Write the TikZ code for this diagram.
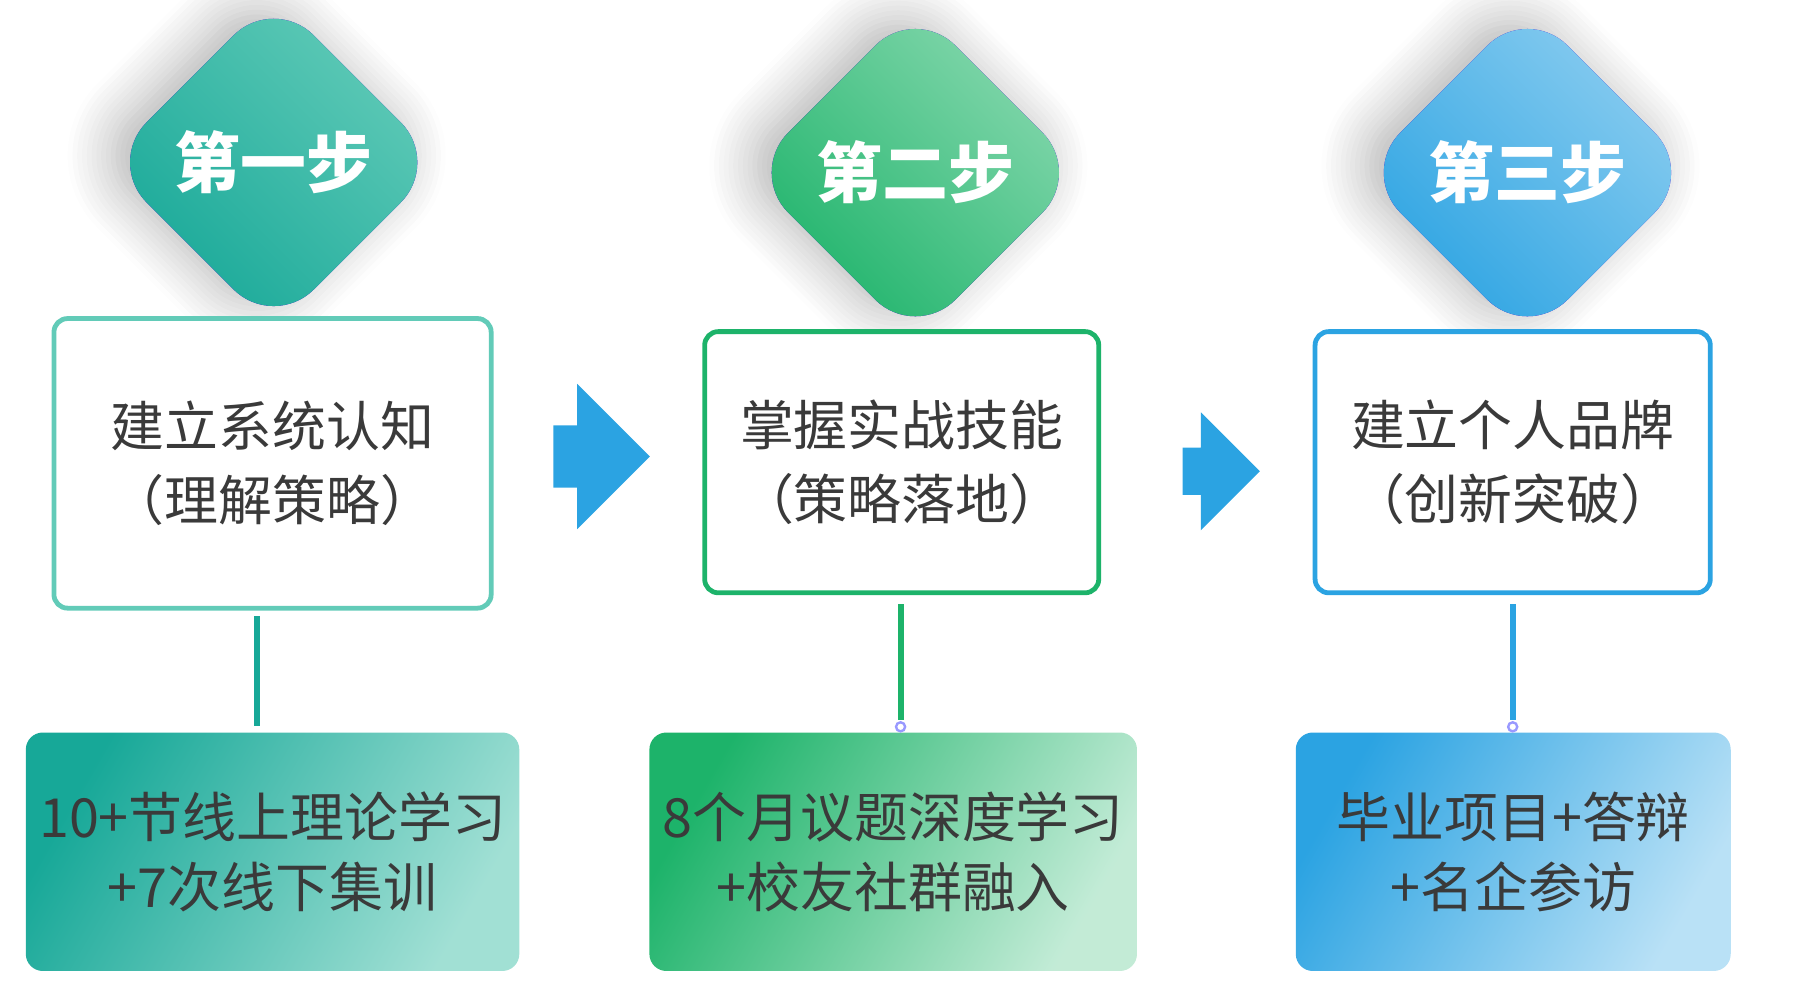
\documentclass[tikz,border=0pt]{standalone}
\usepackage{fontspec}
\setmainfont{Noto Sans CJK SC}
\usetikzlibrary{shapes.geometric,shapes.arrows,shadows.blur}
\definecolor{tealA}{HTML}{62CBB8}
\definecolor{tealB}{HTML}{17A898}
\definecolor{greenA}{HTML}{86D8AE}
\definecolor{greenB}{HTML}{1DB36A}
\definecolor{blueA}{HTML}{8BCDF0}
\definecolor{blueB}{HTML}{2BA3E2}
\definecolor{txt}{HTML}{3A3A3A}
\begin{document}
\begin{tikzpicture}[
stage/.style={diamond, aspect=1, minimum size=2.95cm, rounded corners=0.5cm, text=white,
  font=\bfseries\fontsize{16.5}{18}\selectfont,
  blur shadow={shadow xshift=-0.15cm, shadow yshift=0.06cm, shadow blur radius=0.4cm, shadow opacity=30, shadow blur steps=10, fill=blue!60!violet}},
goal/.style={draw, line width=1.2pt, fill=white, rounded corners=0.12cm, align=center,
  text=txt, font=\fontsize{13.5}{18.5}\selectfont},
plan/.style={rounded corners=0.15cm, align=center, text=txt, font=\fontsize{13.5}{17.5}\selectfont},
go/.style={single arrow, fill=blueB, inner xsep=0pt}
]
\useasboundingbox (0,0) rectangle (15.85,-8.8);
%Stages
\node[stage, left color=tealA, right color=tealB, shading angle=-45]   (s1) at (2.41,-1.43) {第一步};
\node[stage, left color=greenA, right color=greenB, shading angle=-45] (s2) at (8.06,-1.52) {第二步};
\node[stage, left color=blueA, right color=blueB, shading angle=-45]   (s3) at (13.45,-1.52) {第三步};
%Goals
\node[goal, draw=tealA, minimum width=3.85cm, minimum height=2.55cm]  (g1) at (2.40,-4.08) {建立系统认知\\（理解策略）};
\node[goal, draw=greenB, minimum width=3.47cm, minimum height=2.30cm] (g2) at (7.94,-4.07) {掌握实战技能\\（策略落地）};
\node[goal, draw=blueB, minimum width=3.48cm, minimum height=2.30cm]  (g3) at (13.32,-4.07) {建立个人品牌\\（创新突破）};
%Plans
\node[plan, left color=tealB, right color=tealA!60, shading angle=60, minimum width=3.84cm, minimum height=2.10cm]   (p1) at (2.40,-7.50) {10+节线上理论学习\\+7次线下集训};
\node[plan, left color=greenB, right color=greenA!50, shading angle=60, minimum width=3.83cm, minimum height=2.10cm] (p2) at (7.865,-7.50) {8个月议题深度学习\\+校友社群融入};
\node[plan, left color=blueB, right color=blueA!60, shading angle=60, minimum width=3.83cm, minimum height=2.10cm]   (p3) at (13.325,-7.50) {毕业项目+答辩\\+名企参访};
%Arrows
\node[go, inner ysep=0.18cm, minimum width=1.28cm, minimum height=0.85cm] (a1) at (5.16,-4.02) {};
\node[go, inner ysep=0.16cm, minimum width=1.04cm, minimum height=0.68cm] (a2) at (10.65,-4.15) {};
%Lines
\draw[tealB, line width=1.5pt, shorten <=0.05cm, shorten >=0.05cm] (g1.south -| 2.26,0) -- (p1.north -| 2.26,0);
\draw[greenB, line width=1.5pt, shorten <=0.08cm, shorten >=0.1cm] (g2.south -| 7.93,0) -- (p2.north -| 7.93,0);
\draw[blueB, line width=1.5pt, shorten <=0.08cm, shorten >=0.1cm] (g3.south -| 13.32,0) -- (p3.north -| 13.32,0);
\draw[blue!40, line width=0.6pt] (7.93,-6.40) circle (0.04cm) (13.32,-6.40) circle (0.04cm);
\end{tikzpicture}
\end{document}
